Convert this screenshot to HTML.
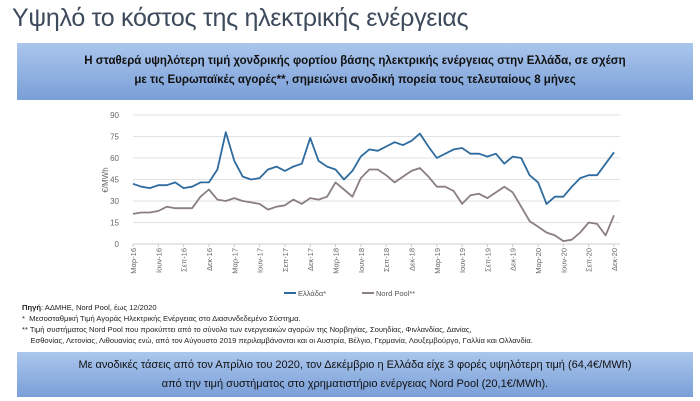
<!DOCTYPE html>
<html><head><meta charset="utf-8"><style>
body{margin:0;width:700px;height:401px;background:#fff;font-family:"Liberation Sans","DejaVu Sans",sans-serif;overflow:hidden;position:relative}
.title{position:absolute;left:12px;top:4px;font-size:25px;color:#3d4a5c;letter-spacing:-0.3px}
.box{position:absolute;left:17px;width:676px;background:linear-gradient(#aac6ec,#7a9fd8);text-align:center;color:#111}
#b1{top:43px;height:57px;font-weight:bold;font-size:11.5px;line-height:19px;padding-top:9px;box-sizing:border-box}
#b2{top:352px;height:45px;font-size:11px;line-height:19px;padding-top:4px;box-sizing:border-box}
.notes{position:absolute;left:22px;top:302px;font-size:7.6px;line-height:11px;color:#222}
</style></head><body>
<div class="title">Υψηλό το κόστος της ηλεκτρικής ενέργειας</div>
<div class="box" id="b1">Η σταθερά υψηλότερη τιμή χονδρικής φορτίου βάσης ηλεκτρικής ενέργειας στην Ελλάδα, σε σχέση<br>με τις Ευρωπαϊκές αγορές**, σημειώνει ανοδική πορεία τους τελευταίους 8 μήνες</div>
<svg id="chart" width="700" height="401" style="position:absolute;left:0;top:0"></svg>
<div class="notes"><b>Πηγή</b>: ΑΔΜΗΕ, Nord Pool, έως 12/2020<br>*&nbsp; Μεσοσταθμική Τιμή Αγοράς Ηλεκτρικής Ενέργειας στο Διασυνδεδεμένο Σύστημα.<br>** Τιμή συστήματος Nord Pool που προκύπτει από το σύνολο των ενεργειακών αγορών της Νορβηγίας, Σουηδίας, Φινλανδίας, Δανίας,<br>&nbsp;&nbsp;&nbsp; Εσθονίας, Λετονίας, Λιθουανίας ενώ, από τον Αύγουστο 2019 περιλαμβάνονται και οι Αυστρία, Βέλγιο, Γερμανία, Λουξεμβούργο, Γαλλία και Ολλανδία.</div>
<div class="box" id="b2">Με ανοδικές τάσεις από τον Απρίλιο του 2020, τον Δεκέμβριο η Ελλάδα είχε 3 φορές υψηλότερη τιμή (64,4€/MWh)<br>από την τιμή συστήματος στο χρηματιστήριο ενέργειας Nord Pool (20,1€/MWh).</div>
<script>
const greece=[42,40,39,41,41,43,39,40,43,43,52,78,58,47,45,46,52,54,51,54,56,74,58,54,52,45,51,61,66,65,68,71,69,72,77,68,60,63,66,67,63,63,61,63,56,61,60,48,43,28,33,33,40,46,48,48,56,64];
const nordpool=[21,22,22,23,26,25,25,25,33,38,31,30,32,30,29,28,24,26,27,31,28,32,31,33,43,38,33,46,52,52,48,43,47,51,53,47,40,40,37,28,34,35,32,36,40,36,26,16,12,8,6,2,3,8,15,14,6,20];
const monthLabels=["Μαρ-16","Ιουν-16","Σεπ-16","Δεκ-16","Μαρ-17","Ιουν-17","Σεπ-17","Δεκ-17","Μαρ-18","Ιουν-18","Σεπ-18","Δεκ-18","Μαρ-19","Ιουν-19","Σεπ-19","Δεκ-19","Μαρ-20","Ιουν-20","Σεπ-20","Δεκ-20"];
const yTicks=[0,15,30,45,60,75,90];
const NS="http://www.w3.org/2000/svg";
const svg=document.getElementById('chart');
const X0=133,X1=614,Y0=244,Y1=115,N=nordpool.length;
const xs=i=>X0+(X1-X0)*i/(N-1);
const ys=v=>Y0-(Y0-Y1)*v/90;
function mk(t,a){const e=document.createElementNS(NS,t);for(const k in a)e.setAttribute(k,a[k]);svg.appendChild(e);return e;}
yTicks.forEach(v=>{
  const l=mk('line',{x1:X0,x2:620,y1:ys(v),y2:ys(v),stroke:v?'#e2e2e2':'#cfcfcf','stroke-width':1});
  
  
  const t=mk('text',{x:119,y:ys(v)+3,'text-anchor':'end','font-size':8,fill:'#666'});
  t.textContent=v;
  
  
});
const yt=mk('text',{transform:'translate(108,180) rotate(-90)','text-anchor':'middle','font-size':8,fill:'#666'});
yt.textContent='€/MWh';


monthLabels.forEach((s,k)=>{
  const x=xs(k*3);
  mk('line',{x1:x,x2:x,y1:Y0,y2:Y0+3,stroke:'#ccc'});
  const t=mk('text',{transform:`translate(${x+3},${Y0+4}) rotate(-90)`,'text-anchor':'end','font-size':7.5,fill:'#666'});
  t.textContent=s;
  
  
});
function line(arr,col,name){
  const p=mk('polyline',{points:arr.map((v,i)=>xs(i).toFixed(1)+','+ys(v).toFixed(1)).join(' '),fill:'none',stroke:col,'stroke-width':1.8,'stroke-linejoin':'round'});
  
  
}
line(nordpool,'#8a7d86','nordpool-line');
line(greece,'#2e6b9e','greece-line');
const lg=[['#2e6b9e','Ελλάδα*',298],['#8a7d86','Nord Pool**',376]];
lg.forEach(([c,s,x])=>{
  mk('line',{x1:x-14,x2:x-2,y1:293,y2:293,stroke:c,'stroke-width':2});
  const t=mk('text',{x:x,y:296,'font-size':7.5,fill:'#555'});
  t.textContent=s;
  
  
});
</script>
</body></html>
